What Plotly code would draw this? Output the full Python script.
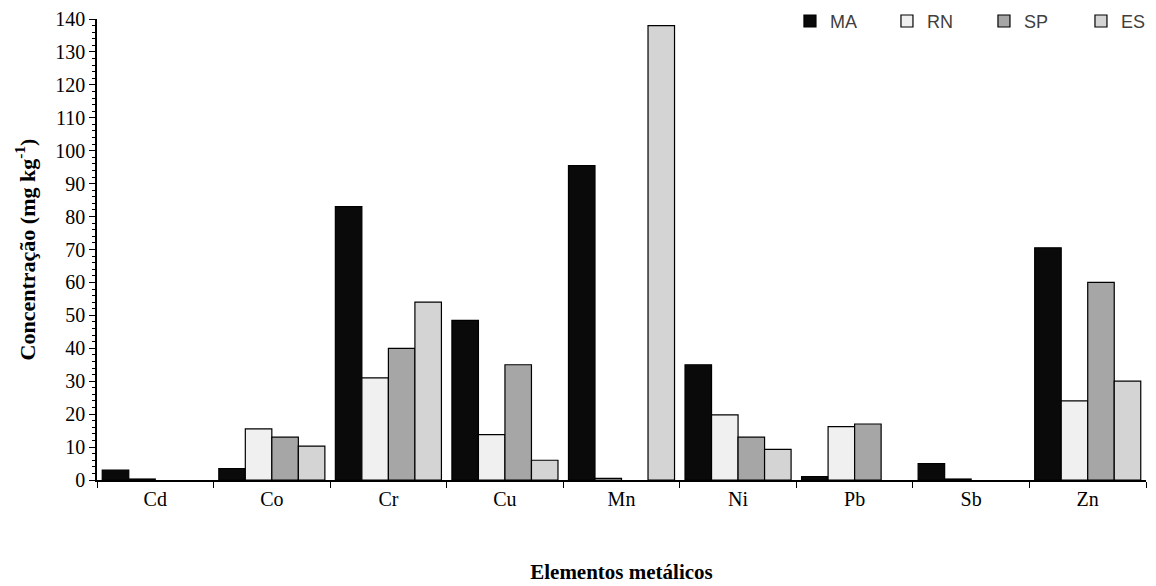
import plotly.graph_objects as go

categories = ["Cd", "Co", "Cr", "Cu", "Mn", "Ni", "Pb", "Sb", "Zn"]
series_names = ["MA", "RN", "SP", "ES"]
ma = [3.0, 3.5, 83.0, 48.5, 95.5, 35.0, 1.0, 5.0, 70.5]
rn = [0.3, 15.5, 31.0, 13.8, 0.5, 19.8, 16.2, 0.3, 24.0]
sp = [None, 13.0, 40.0, 35.0, None, 13.0, 17.0, None, 60.0]
es = [None, 10.3, 54.0, 6.0, 138.0, 9.3, None, None, 30.0]
y_ticks = list(range(0, 141, 10))

colors = ["#0a0a0a", "#f0f0f0", "#a6a6a6", "#d4d4d4"]
values = [ma, rn, sp, es]

fig = go.Figure()
for name, vals, col in zip(series_names, values, colors):
    fig.add_trace(go.Bar(
        x=categories, y=vals, name=name,
        marker=dict(color=col, line=dict(color="#000000", width=1.2)),
    ))

serif = "Liberation Serif, Times New Roman, serif"
fig.update_layout(
    width=1156, height=586,
    paper_bgcolor="white", plot_bgcolor="white",
    margin=dict(l=97, r=10, t=19, b=106, autoexpand=False),
    barmode="group", bargap=0.09, bargroupgap=0,
    font=dict(family=serif, size=20, color="#000000"),
    legend=dict(
        orientation="h", x=0.6606, xanchor="left", y=0.995, yanchor="middle",
        font=dict(family="Liberation Sans, Arial, sans-serif", size=18, color="#404040"),
        entrywidth=52, entrywidthmode="pixels",
        bgcolor="rgba(0,0,0,0)",
        traceorder="normal",
    ),
    xaxis=dict(
        showline=True, linecolor="#000000", linewidth=1.5,
        ticks="outside", tickson="boundaries", ticklen=6, tickcolor="#000000",
        tickfont=dict(family=serif, size=20),
        title=dict(text="<b>Elementos metálicos</b>", font=dict(family=serif, size=21), standoff=56),
        showgrid=False,
    ),
    yaxis=dict(
        range=[0, 140], tickvals=y_ticks,
        showline=True, linecolor="#000000", linewidth=1.5,
        ticks="outside", ticklen=6, tickcolor="#000000",
        minor=dict(dtick=2, ticks="outside", ticklen=3, tickcolor="#000000", showgrid=False),
        tickfont=dict(family=serif, size=20),
        title=dict(text="<b>Concentração (mg kg<sup>-1</sup>)</b>", font=dict(family=serif, size=22), standoff=14),
        showgrid=False, zeroline=False,
    ),
)

fig.write_html("out.html")
